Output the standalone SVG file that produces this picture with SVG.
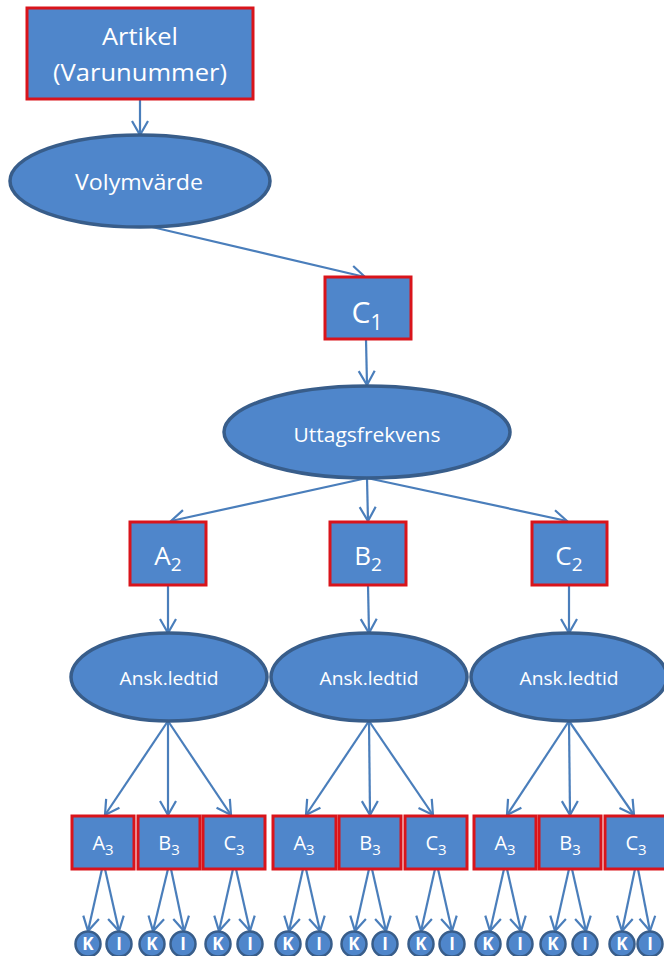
<svg xmlns="http://www.w3.org/2000/svg" width="664" height="956" viewBox="0 0 664 956">
  <style>
    .box { fill: #4F86CB; stroke: #D9141B; stroke-width: 3; }
    .oval { fill: #4F86CB; stroke: #385D8A; stroke-width: 3.5; }
    .leaf { fill: #4F86CB; stroke: #385D8A; stroke-width: 2.5; }
    .lbl { fill: #FFFFFF; font-family: "Open Sans", "Liberation Sans", sans-serif; text-anchor: middle; font-variant-ligatures: none; }
    .edge { stroke: #4A7EBB; stroke-width: 2.2; fill: none; marker-end: url(#arrow); }
  </style>
  <defs>
    <marker id="arrow" markerUnits="userSpaceOnUse" markerWidth="20" markerHeight="20" viewBox="-16 -10 20 20" refX="0" refY="0" orient="auto">
      <path d="M-14,-8 L0,0 L-14,8" fill="none" stroke="#4A7EBB" stroke-width="2.2"/>
    </marker>
  </defs>
  <rect width="664" height="956" fill="#FFFFFF"/>

  <!-- connectors -->
  <g id="connectors">
    <line class="edge" x1="140" y1="99" x2="140" y2="135"/>
    <line class="edge" x1="152" y1="227" x2="365" y2="277"/>
    <line class="edge" x1="366" y1="339" x2="367" y2="385"/>
    <line class="edge" x1="367" y1="478" x2="171" y2="521"/>
    <line class="edge" x1="367" y1="478" x2="368" y2="521"/>
    <line class="edge" x1="367" y1="478" x2="567" y2="521"/>
    <line class="edge" x1="168" y1="585" x2="168" y2="633"/>
    <line class="edge" x1="368" y1="585" x2="369" y2="633"/>
    <line class="edge" x1="569" y1="585" x2="569" y2="633"/>
    <!-- lead time to level 3 -->
    <line class="edge" x1="168" y1="721" x2="105" y2="815"/>
    <line class="edge" x1="168" y1="721" x2="168" y2="815"/>
    <line class="edge" x1="168" y1="721" x2="231" y2="815"/>
    <line class="edge" x1="369" y1="721" x2="306" y2="815"/>
    <line class="edge" x1="369" y1="721" x2="370" y2="815"/>
    <line class="edge" x1="369" y1="721" x2="433" y2="815"/>
    <line class="edge" x1="569" y1="721" x2="507" y2="815"/>
    <line class="edge" x1="569" y1="721" x2="570" y2="815"/>
    <line class="edge" x1="569" y1="721" x2="634" y2="815"/>
    <!-- level 3 to K / I -->
    <line class="edge" x1="102" y1="869" x2="88" y2="931"/>
    <line class="edge" x1="105" y1="869" x2="119" y2="931"/>
    <line class="edge" x1="168" y1="869" x2="153" y2="931"/>
    <line class="edge" x1="171" y1="869" x2="184" y2="931"/>
    <line class="edge" x1="233" y1="869" x2="219" y2="931"/>
    <line class="edge" x1="236" y1="869" x2="250" y2="931"/>
    <line class="edge" x1="303" y1="869" x2="289" y2="931"/>
    <line class="edge" x1="306" y1="869" x2="320" y2="931"/>
    <line class="edge" x1="369" y1="869" x2="355" y2="931"/>
    <line class="edge" x1="372" y1="869" x2="386" y2="931"/>
    <line class="edge" x1="435" y1="869" x2="421" y2="931"/>
    <line class="edge" x1="438" y1="869" x2="452" y2="931"/>
    <line class="edge" x1="504" y1="869" x2="490" y2="931"/>
    <line class="edge" x1="507" y1="869" x2="521" y2="931"/>
    <line class="edge" x1="569" y1="869" x2="555" y2="931"/>
    <line class="edge" x1="572" y1="869" x2="586" y2="931"/>
    <line class="edge" x1="635" y1="869" x2="622" y2="931"/>
    <line class="edge" x1="638" y1="869" x2="650" y2="931"/>
  </g>

  <g id="artikel">
    <rect class="box" x="27" y="8" width="226" height="91"/>
    <text class="lbl" x="140" y="45" font-size="24" textLength="76" lengthAdjust="spacingAndGlyphs">Artikel</text>
    <text class="lbl" x="140" y="81" font-size="24" textLength="174" lengthAdjust="spacingAndGlyphs">(Varunummer)</text>
  </g>
  <g id="volymvarde">
    <ellipse class="oval" cx="140" cy="181" rx="130" ry="46"/>
    <text class="lbl" x="139" y="190" font-size="22" textLength="128" lengthAdjust="spacingAndGlyphs">Volymvärde</text>
  </g>
  <g id="c1">
    <rect class="box" x="325" y="277" width="86" height="62"/>
    <text class="lbl" x="367" y="323" font-size="30">C<tspan font-size="21" dy="7">1</tspan></text>
  </g>
  <g id="uttagsfrekvens">
    <ellipse class="oval" cx="367" cy="432" rx="143" ry="46"/>
    <text class="lbl" x="367" y="442" font-size="20" textLength="147" lengthAdjust="spacingAndGlyphs">Uttagsfrekvens</text>
  </g>

  <g id="a2">
    <rect class="box" x="130" y="522" width="76" height="63"/>
    <text class="lbl" x="168" y="565" font-size="26">A<tspan font-size="19" dy="6">2</tspan></text>
  </g>
  <g id="b2">
    <rect class="box" x="330" y="522" width="76" height="63"/>
    <text class="lbl" x="368" y="565" font-size="26">B<tspan font-size="19" dy="6">2</tspan></text>
  </g>
  <g id="c2">
    <rect class="box" x="532" y="522" width="75" height="63"/>
    <text class="lbl" x="569" y="565" font-size="26">C<tspan font-size="19" dy="6">2</tspan></text>
  </g>

  <g id="ledtid-a">
    <ellipse class="oval" cx="169" cy="677" rx="98" ry="44"/>
    <text class="lbl" x="169" y="685" font-size="19" textLength="99" lengthAdjust="spacingAndGlyphs">Ansk.ledtid</text>
  </g>
  <g id="ledtid-b">
    <ellipse class="oval" cx="369" cy="677" rx="98" ry="44"/>
    <text class="lbl" x="369" y="685" font-size="19" textLength="99" lengthAdjust="spacingAndGlyphs">Ansk.ledtid</text>
  </g>
  <g id="ledtid-c">
    <ellipse class="oval" cx="569" cy="677" rx="98" ry="44"/>
    <text class="lbl" x="569" y="685" font-size="19" textLength="99" lengthAdjust="spacingAndGlyphs">Ansk.ledtid</text>
  </g>

  <!-- level 3 boxes -->
  <g id="a3-1"><rect class="box" x="72" y="816" width="62" height="53"/><text class="lbl" x="103" y="850" font-size="20">A<tspan font-size="15" dy="5">3</tspan></text></g>
  <g id="b3-1"><rect class="box" x="138" y="816" width="62" height="53"/><text class="lbl" x="169" y="850" font-size="20">B<tspan font-size="15" dy="5">3</tspan></text></g>
  <g id="c3-1"><rect class="box" x="203" y="816" width="62" height="53"/><text class="lbl" x="234" y="850" font-size="20">C<tspan font-size="15" dy="5">3</tspan></text></g>
  <g id="a3-2"><rect class="box" x="273" y="816" width="63" height="53"/><text class="lbl" x="304" y="850" font-size="20">A<tspan font-size="15" dy="5">3</tspan></text></g>
  <g id="b3-2"><rect class="box" x="339" y="816" width="62" height="53"/><text class="lbl" x="370" y="850" font-size="20">B<tspan font-size="15" dy="5">3</tspan></text></g>
  <g id="c3-2"><rect class="box" x="405" y="816" width="62" height="53"/><text class="lbl" x="436" y="850" font-size="20">C<tspan font-size="15" dy="5">3</tspan></text></g>
  <g id="a3-3"><rect class="box" x="474" y="816" width="62" height="53"/><text class="lbl" x="505" y="850" font-size="20">A<tspan font-size="15" dy="5">3</tspan></text></g>
  <g id="b3-3"><rect class="box" x="539" y="816" width="62" height="53"/><text class="lbl" x="570" y="850" font-size="20">B<tspan font-size="15" dy="5">3</tspan></text></g>
  <g id="c3-3"><rect class="box" x="605" y="816" width="62" height="53"/><text class="lbl" x="636" y="850" font-size="20">C<tspan font-size="15" dy="5">3</tspan></text></g>

  <!-- K / I leaves -->
  <g id="leaves" font-weight="bold">
    <g id="k1"><circle class="leaf" cx="88" cy="944" r="12.5"/><text class="lbl" x="88" y="950" font-size="17">K</text></g>
    <g id="i1"><circle class="leaf" cx="119" cy="944" r="12.5"/><text class="lbl" x="119" y="950" font-size="17">I</text></g>
    <g id="k2"><circle class="leaf" cx="152" cy="944" r="12.5"/><text class="lbl" x="152" y="950" font-size="17">K</text></g>
    <g id="i2"><circle class="leaf" cx="183" cy="944" r="12.5"/><text class="lbl" x="183" y="950" font-size="17">I</text></g>
    <g id="k3"><circle class="leaf" cx="218" cy="944" r="12.5"/><text class="lbl" x="218" y="950" font-size="17">K</text></g>
    <g id="i3"><circle class="leaf" cx="250" cy="944" r="12.5"/><text class="lbl" x="250" y="950" font-size="17">I</text></g>
    <g id="k4"><circle class="leaf" cx="288" cy="944" r="12.5"/><text class="lbl" x="288" y="950" font-size="17">K</text></g>
    <g id="i4"><circle class="leaf" cx="319" cy="944" r="12.5"/><text class="lbl" x="319" y="950" font-size="17">I</text></g>
    <g id="k5"><circle class="leaf" cx="354" cy="944" r="12.5"/><text class="lbl" x="354" y="950" font-size="17">K</text></g>
    <g id="i5"><circle class="leaf" cx="385" cy="944" r="12.5"/><text class="lbl" x="385" y="950" font-size="17">I</text></g>
    <g id="k6"><circle class="leaf" cx="421" cy="944" r="12.5"/><text class="lbl" x="421" y="950" font-size="17">K</text></g>
    <g id="i6"><circle class="leaf" cx="452" cy="944" r="12.5"/><text class="lbl" x="452" y="950" font-size="17">I</text></g>
    <g id="k7"><circle class="leaf" cx="488" cy="944" r="12.5"/><text class="lbl" x="488" y="950" font-size="17">K</text></g>
    <g id="i7"><circle class="leaf" cx="520" cy="944" r="12.5"/><text class="lbl" x="520" y="950" font-size="17">I</text></g>
    <g id="k8"><circle class="leaf" cx="553" cy="944" r="12.5"/><text class="lbl" x="553" y="950" font-size="17">K</text></g>
    <g id="i8"><circle class="leaf" cx="585" cy="944" r="12.5"/><text class="lbl" x="585" y="950" font-size="17">I</text></g>
    <g id="k9"><circle class="leaf" cx="622" cy="944" r="12.5"/><text class="lbl" x="622" y="950" font-size="17">K</text></g>
    <g id="i9"><circle class="leaf" cx="650" cy="944" r="12.5"/><text class="lbl" x="650" y="950" font-size="17">I</text></g>
  </g>
</svg>
